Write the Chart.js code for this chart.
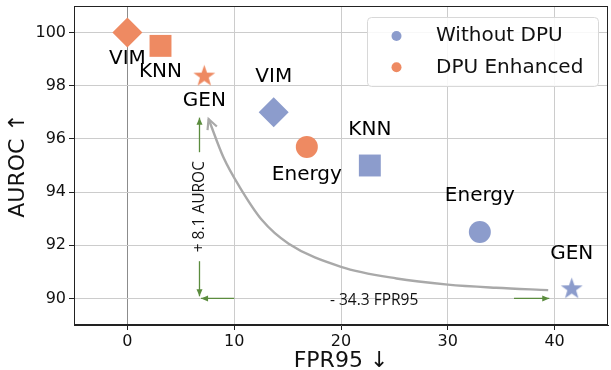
<!DOCTYPE html>
<html lang="en">
<head>
<meta charset="UTF-8">
<title>AUROC vs FPR95</title>
<script src="https://cdn.jsdelivr.net/npm/chart.js"></script>
<style>
  html, body { margin: 0; padding: 0; background: #fff; }
</style>
</head>
<body>
<canvas id="dpuChart" width="611" height="370"></canvas>
<script>
const methods = ['VIM', 'KNN', 'Energy', 'GEN'];
const fprWithout = [13.7, 22.7, 33.0, 41.6];
const aurocWithout = [97.0, 95.0, 92.5, 90.4];
const fprDpu = [0.0, 3.1, 16.8, 7.2];
const aurocDpu = [100.0, 99.5, 95.7, 98.4];
const xTicks = [0, 10, 20, 30, 40];
const yTicks = [90, 92, 94, 96, 98, 100];
// gray trend curve (FPR95, AUROC)
const trendFpr = [7.6, 9.0, 10.5, 12.6, 15.1, 20.0, 25.2, 30.0, 34.5, 39.4];
const trendAuroc = [96.75, 95.3, 94.2, 92.95, 92.06, 91.19, 90.75, 90.52, 90.40, 90.31];
const gainAurocText = '+ 8.1 AUROC';
const gainFprText = '- 34.3 FPR95';

const BLUE = 'rgb(140,156,204)';
const ORANGE = 'rgb(238,138,98)';
const GREEN = '#5b8c3e';
const FONT = 'DejaVu Sans';
const NOTE_FONT = 'Open Sans';

function starImage(color, r) {
    const size = Math.ceil(r * 2 + 2);
    const c = document.createElement('canvas');
    c.width = size; c.height = size;
    const g = c.getContext('2d');
    g.fillStyle = color;
    g.beginPath();
    for (let k = 0; k < 10; k++) {
        const rad = k % 2 === 0 ? r : r * 0.4;
        const a = -Math.PI / 2 + k * Math.PI / 5;
        const px = size / 2 + rad * Math.cos(a);
        const py = size / 2 + 1.2 + rad * Math.sin(a);
        if (k === 0) g.moveTo(px, py); else g.lineTo(px, py);
    }
    g.closePath();
    g.fill();
    return c;
}

function markerSet(color) {
    return {
        pointStyle: ['rectRot', 'rect', 'circle', starImage(color, 11.5)],
        radius: [15, 15.5, 11, 12]
    };
}

const blueMarks = markerSet(BLUE);
const orangeMarks = markerSet(ORANGE);

function toPts(xs, ys) {
    return xs.map((x, i) => ({ x: x, y: ys[i] }));
}

function arrowHead(ctx, x0, y0, x1, y1, len, half, color, open) {
    const a = Math.atan2(y1 - y0, x1 - x0);
    const bx = x1 - len * Math.cos(a), by = y1 - len * Math.sin(a);
    const nx = -Math.sin(a) * half, ny = Math.cos(a) * half;
    ctx.beginPath();
    if (open) {
        ctx.moveTo(bx + nx, by + ny);
        ctx.lineTo(x1, y1);
        ctx.lineTo(bx - nx, by - ny);
        ctx.strokeStyle = color;
        ctx.stroke();
    } else {
        ctx.moveTo(x1, y1);
        ctx.lineTo(bx + nx, by + ny);
        ctx.lineTo(bx - nx, by - ny);
        ctx.closePath();
        ctx.fillStyle = color;
        ctx.fill();
    }
}

const decorPlugin = {
    id: 'decor',
    afterDatasetsDraw(chart) {
        const { ctx, chartArea: ca, scales: { x, y } } = chart;
        ctx.save();

        // frame (all four spines)
        ctx.strokeStyle = '#222';
        ctx.lineWidth = 1;
        ctx.strokeRect(ca.left + 0.5, ca.top + 0.5, ca.right - ca.left - 1, ca.bottom - ca.top - 1);

        // arrow head of the gray curve
        ctx.lineWidth = 2.2;
        arrowHead(ctx, x.getPixelForValue(trendFpr[1]), y.getPixelForValue(trendAuroc[1]),
            x.getPixelForValue(trendFpr[0]), y.getPixelForValue(trendAuroc[0]), 10, 5, '#a9a9a9', true);

        // green gain arrows
        ctx.lineWidth = 1.3;
        ctx.strokeStyle = GREEN;
        const vx = x.getPixelForValue(6.75);
        const segs = [
            [vx, y.getPixelForValue(91.4), vx, y.getPixelForValue(90.08)],
            [vx, y.getPixelForValue(95.5), vx, y.getPixelForValue(96.8)],
            [x.getPixelForValue(10.0), y.getPixelForValue(90), x.getPixelForValue(6.9), y.getPixelForValue(90)],
            [x.getPixelForValue(36.2), y.getPixelForValue(90), x.getPixelForValue(39.5), y.getPixelForValue(90)]
        ];
        segs.forEach(s => {
            ctx.beginPath();
            ctx.moveTo(s[0], s[1]);
            ctx.lineTo(s[2], s[3]);
            ctx.stroke();
            arrowHead(ctx, s[0], s[1], s[2], s[3], 7, 3, GREEN, false);
        });

        ctx.fillStyle = '#111';
        ctx.font = '15.5px "' + NOTE_FONT + '"';
        ctx.textAlign = 'center';
        ctx.textBaseline = 'middle';
        ctx.save();
        ctx.translate(vx, y.getPixelForValue(93.45));
        ctx.rotate(-Math.PI / 2);
        ctx.fillText(gainAurocText, 0, 0);
        ctx.restore();
        ctx.fillText(gainFprText, x.getPixelForValue(23.1), y.getPixelForValue(89.9));

        // method names next to markers
        ctx.font = '20px "' + FONT + '"';
        ctx.fillStyle = '#000';
        chart.data.datasets.forEach((ds, i) => {
            if (!ds.names) return;
            chart.getDatasetMeta(i).data.forEach((pt, j) => {
                ctx.fillText(ds.names[j], pt.x, pt.y + ds.labelDy[j]);
            });
        });

        // legend
        const lx = ca.right - 241, ly = ca.top + 11, lw = 231, lh = 69;
        ctx.beginPath();
        ctx.roundRect(lx + 0.5, ly + 0.5, lw, lh, 4);
        ctx.fillStyle = 'rgba(255,255,255,0.85)';
        ctx.fill();
        ctx.strokeStyle = '#d8d8d8';
        ctx.lineWidth = 1;
        ctx.stroke();
        const entries = [['Without DPU', BLUE], ['DPU Enhanced', ORANGE]];
        ctx.textAlign = 'left';
        entries.forEach((e, k) => {
            const cy = ly + 19 + k * 31.3;
            ctx.beginPath();
            ctx.arc(lx + 29.5, cy, 5, 0, Math.PI * 2);
            ctx.fillStyle = e[1];
            ctx.fill();
            ctx.fillStyle = '#111';
            ctx.fillText(e[0], lx + 69, cy);
        });
        ctx.restore();
    }
};

new Chart(document.getElementById('dpuChart'), {
    type: 'scatter',
    data: {
        datasets: [
            {
                type: 'line',
                data: toPts(trendFpr, trendAuroc),
                borderColor: '#a9a9a9',
                borderWidth: 2.4,
                pointRadius: 0,
                cubicInterpolationMode: 'monotone',
                fill: false,
                order: 3
            },
            {
                label: 'Without DPU',
                data: toPts(fprWithout, aurocWithout),
                backgroundColor: BLUE,
                borderWidth: 0,
                pointStyle: blueMarks.pointStyle,
                pointRadius: blueMarks.radius,
                names: methods,
                labelDy: [-36, -36, -36, -34],
                order: 1
            },
            {
                label: 'DPU Enhanced',
                data: toPts(fprDpu, aurocDpu),
                backgroundColor: ORANGE,
                borderWidth: 0,
                pointStyle: orangeMarks.pointStyle,
                pointRadius: orangeMarks.radius,
                names: methods,
                labelDy: [26, 26, 28, 26],
                order: 1
            }
        ]
    },
    options: {
        responsive: false,
        animation: false,
        events: [],
        layout: { autoPadding: false, padding: { top: 6, right: 3, left: 0, bottom: 0 } },
        plugins: {
            legend: { display: false },
            tooltip: { enabled: false }
        },
        scales: {
            x: {
                type: 'linear',
                min: -5,
                max: 45,
                afterBuildTicks: scale => { scale.ticks = xTicks.map(v => ({ value: v })); },
                afterFit: scale => {
                    scale.height = 45;
                    scale.paddingLeft = 0;
                    scale.paddingRight = 0;
                },
                grid: {
                    color: c => (c.tick && c.tick.value === 0) ? '#8c8c8c' : '#cccccc',
                    tickColor: '#222',
                    tickLength: 5
                },
                border: { color: '#222' },
                ticks: { color: '#111', padding: 2, font: { family: FONT, size: 16 } },
                title: {
                    display: true,
                    text: 'FPR95 ↓',
                    color: '#111',
                    font: { family: FONT, size: 22 },
                    padding: { top: 0, bottom: -4 }
                }
            },
            y: {
                type: 'linear',
                min: 89,
                max: 101,
                afterBuildTicks: scale => { scale.ticks = yTicks.map(v => ({ value: v })); },
                afterFit: scale => {
                    scale.width = 74;
                    scale.paddingTop = 0;
                    scale.paddingBottom = 0;
                },
                grid: { color: '#cccccc', tickColor: '#222', tickLength: 5 },
                border: { color: '#222' },
                ticks: { color: '#111', padding: 3, font: { family: FONT, size: 16 } },
                title: {
                    display: true,
                    text: 'AUROC ↑',
                    color: '#111',
                    font: { family: FONT, size: 22 },
                    padding: { top: 5, bottom: 0 }
                }
            }
        }
    },
    plugins: [decorPlugin]
});
</script>
</body>
</html>
